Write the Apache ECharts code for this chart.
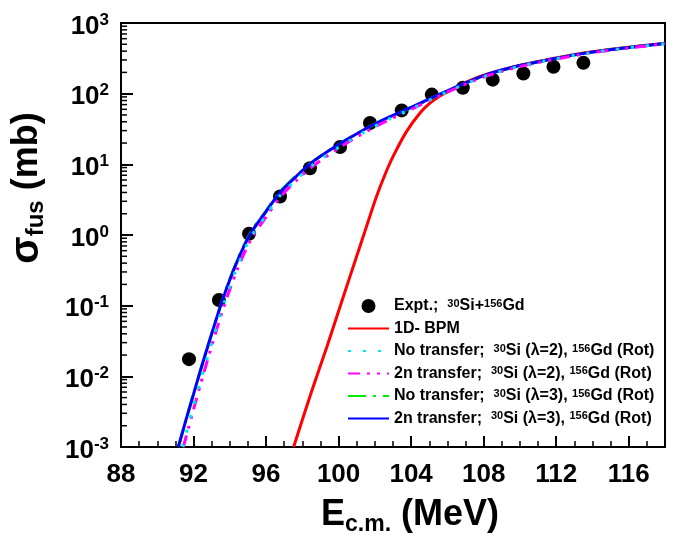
<!DOCTYPE html>
<html>
<head>
<meta charset="utf-8">
<script src="https://cdn.jsdelivr.net/npm/echarts@6/dist/echarts.min.js"></script>
<style>
html, body { margin: 0; padding: 0; background: #fff; }
#chart { width: 683px; height: 535px; }
</style>
</head>
<body>
<div id="chart"></div>
<script>
// Fusion cross sections for 30Si + 156Gd (sigma in mb, E_cm in MeV)
const exptE     = [91.75, 93.4, 95.06, 96.77, 98.42, 100.08, 101.73, 103.48, 105.14, 106.85, 108.5, 110.19, 111.85, 113.5];
const exptSigma = [0.0175, 0.12, 1.04, 3.5, 8.8, 17.6, 38.5, 58, 97, 121, 158, 193, 240, 273];

const bpmE     = [97.52, 98.5, 99.35, 100.2, 100.96, 101.5, 102.1, 102.6, 103.02, 103.76, 104.5, 105.05, 105.6, 106.33, 107.0, 108.17, 110.0, 111.84, 113.69, 115.52, 118.0];
const bpmSigma = [0.001, 0.006, 0.026, 0.12, 0.47, 1.23, 3.55, 7.6, 13.2, 29.5, 53.7, 74, 93, 117, 145, 188, 252, 314, 382, 440, 519];

const noTrL2E     = [91.40, 92.0, 92.4, 92.9, 93.64, 94.4, 95.15, 96.0, 96.77, 97.7, 98.6, 100.45, 102.29, 104.12, 106.33, 108.17, 110.0, 111.84, 113.69, 115.52, 118.0];
const noTrL2Sigma = [0.001, 0.0038, 0.0088, 0.024, 0.10, 0.35, 0.92, 1.9, 3.6, 6.2, 9.9, 20.5, 38, 63, 116, 180, 245, 307, 373, 430, 510];

const twoNL2E     = [91.44, 92.0, 92.4, 92.9, 93.64, 94.4, 95.15, 96.0, 96.77, 97.7, 98.6, 100.45, 102.29, 104.12, 106.33, 108.17, 110.0, 111.84, 113.69, 115.52, 118.0];
const twoNL2Sigma = [0.001, 0.0034, 0.0079, 0.022, 0.091, 0.32, 0.85, 1.8, 3.4, 6.0, 9.5, 20, 37, 62, 115, 178, 242, 304, 370, 427, 507];

const noTrL3E     = [91.16, 91.6, 92.0, 92.4, 92.9, 93.64, 94.4, 95.15, 96.0, 96.77, 97.7, 98.6, 100.45, 102.29, 104.12, 106.33, 108.17, 110.0, 111.84, 113.69, 115.52, 118.0];
const noTrL3Sigma = [0.001, 0.0025, 0.0056, 0.0125, 0.033, 0.13, 0.43, 1.08, 2.2, 4.1, 7.0, 11.1, 22.4, 40.5, 65.5, 119, 185, 249, 310, 377, 435, 512];

const twoNL3E     = [91.16, 91.6, 92.0, 92.4, 92.9, 93.64, 94.4, 95.15, 96.0, 96.77, 97.7, 98.6, 100.45, 102.29, 104.12, 106.33, 108.17, 110.0, 111.84, 113.69, 115.52, 118.0];
const twoNL3Sigma = [0.001, 0.0025, 0.0056, 0.0126, 0.033, 0.129, 0.42, 1.05, 2.15, 4.0, 6.9, 11.0, 22.4, 40.7, 66, 120, 186, 250, 311, 378, 436, 513];

// axis ticks
const xMajorTicks = [88, 92, 96, 100, 104, 108, 112, 116];
const yDecades = [-3, -2, -1, 0, 1, 2, 3];
const yMinorTicks = [];
for (let k = -3; k < 3; k++) {
  for (let m = 2; m <= 9; m++) yMinorTicks.push([88, m * Math.pow(10, k)]);
}

const FONT = '"Liberation Sans", Arial, Helvetica, sans-serif';
const pair = (xs, ys) => xs.map((x, i) => [x, ys[i]]);

const NAMES = {
  expt: 'Expt. 30Si+156Gd',
  bpm: '1D- BPM',
  l2no: 'No transfer L2',
  l2tr: '2n transfer L2',
  l3no: 'No transfer L3',
  l3tr: '2n transfer L3'
};
const legendText = {
  [NAMES.expt]: '{t|Expt.;  }{p|30}{t|Si+}{p|156}{t|Gd}',
  [NAMES.bpm]:  '{t|1D- BPM}',
  [NAMES.l2no]: '{t|No transfer;  }{p|30}{t|Si (\u03bb=2), }{p|156}{t|Gd (Rot)}',
  [NAMES.l2tr]: '{t|2n transfer;  }{p|30}{t|Si (\u03bb=2), }{p|156}{t|Gd (Rot)}',
  [NAMES.l3no]: '{t|No transfer;  }{p|30}{t|Si (\u03bb=3), }{p|156}{t|Gd (Rot)}',
  [NAMES.l3tr]: '{t|2n transfer;  }{p|30}{t|Si (\u03bb=3), }{p|156}{t|Gd (Rot)}'
};

function curve(name, xs, ys, color, dash) {
  return {
    name: name, type: 'line', data: pair(xs, ys),
    showSymbol: false, symbol: 'none', smooth: 0.3,
    lineStyle: { color: color, width: 3, type: dash, cap: 'butt' },
    itemStyle: { color: color },
    emphasis: { disabled: true }
  };
}
// legend entry for a curve: line only, no marker
const lineEntry = name => ({ name: name, itemStyle: { opacity: 0 } });

const chart = echarts.init(document.getElementById('chart'), null, { renderer: 'canvas' });
chart.setOption({
  animation: false,
  backgroundColor: '#fff',
  textStyle: { fontFamily: FONT },
  grid: {
    left: 121, right: 18, top: 23, bottom: 88,
    containLabel: false, outerBoundsMode: 'none',
    show: true, borderColor: '#000', borderWidth: 2, backgroundColor: 'transparent'
  },
  xAxis: [{
    type: 'value', min: 88, max: 118, interval: 4,
    axisLine: { lineStyle: { color: '#000', width: 2 } },
    axisTick: { inside: true, length: 11, lineStyle: { color: '#000', width: 2 } },
    axisLabel: {
      margin: 15, color: '#000', fontFamily: FONT, fontWeight: 'bold', fontSize: 26,
      showMaxLabel: false,
      formatter: v => xMajorTicks.indexOf(v) >= 0 ? String(v) : ''
    },
    splitLine: { show: false },
    name: '{e|E}{s|c.m.}{e| (MeV)}',
    nameLocation: 'middle', nameGap: 47,
    nameTextStyle: {
      padding: [0, 0, 0, 34],
      rich: {
        e: { fontFamily: FONT, fontWeight: 'bold', fontSize: 36, color: '#000', lineHeight: 42 },
        s: { fontFamily: FONT, fontWeight: 'bold', fontSize: 23, color: '#000', lineHeight: 20, verticalAlign: 'bottom' }
      }
    }
  }, {
    type: 'value', min: 88, max: 118, interval: 1, position: 'bottom',
    axisLine: { show: false },
    axisTick: { inside: true, length: 6, lineStyle: { color: '#000', width: 1.5 } },
    axisLabel: { show: false },
    splitLine: { show: false }
  }],
  yAxis: [{
    type: 'log', logBase: 10, min: 1e-3, max: 1e3, splitNumber: 6,
    axisLine: { lineStyle: { color: '#000', width: 2 } },
    axisTick: { inside: true, length: 12, lineStyle: { color: '#000', width: 2 } },
    axisLabel: {
      margin: 12,
      padding: [7, 0, 0, 0],
      formatter: v => {
        const e = Math.round(Math.log10(v));
        return yDecades.indexOf(e) >= 0 ? '{b|10}{s|' + e + '}' : '';
      },
      rich: {
        b: { fontFamily: FONT, fontWeight: 'bold', fontSize: 26, color: '#000', lineHeight: 30 },
        s: { fontFamily: FONT, fontWeight: 'bold', fontSize: 17, color: '#000', lineHeight: 14, verticalAlign: 'top' }
      }
    },
    splitLine: { show: false },
    name: '{g|\u03c3}{s|fus}{e| (mb)}',
    nameLocation: 'middle', nameGap: 73,
    nameTextStyle: {
      padding: [0, 0, 0, 94],
      rich: {
        g: { fontFamily: FONT, fontWeight: 'bold', fontSize: 40, color: '#000', lineHeight: 42 },
        e: { fontFamily: FONT, fontWeight: 'bold', fontSize: 36, color: '#000', lineHeight: 42 },
        s: { fontFamily: FONT, fontWeight: 'bold', fontSize: 24, color: '#000', lineHeight: 20, verticalAlign: 'bottom' }
      }
    }
  }],
  legend: {
    orient: 'vertical', left: 347, top: 298, padding: 0,
    itemWidth: 41, itemHeight: 14, itemGap: 6.5,
    selectedMode: false,
    data: [
      { name: NAMES.expt },
      lineEntry(NAMES.bpm), lineEntry(NAMES.l2no), lineEntry(NAMES.l2tr),
      lineEntry(NAMES.l3no), lineEntry(NAMES.l3tr)
    ],
    formatter: name => legendText[name],
    textStyle: {
      color: '#000', fontFamily: FONT, fontWeight: 'bold', fontSize: 16, lineHeight: 16,
      rich: {
        t: { fontFamily: FONT, fontWeight: 'bold', fontSize: 16, color: '#000', lineHeight: 16 },
        p: { fontFamily: FONT, fontWeight: 'bold', fontSize: 11, color: '#000', lineHeight: 10, verticalAlign: 'top' }
      }
    }
  },
  series: [
    {
      name: NAMES.expt, type: 'scatter', data: pair(exptE, exptSigma),
      symbol: 'circle', symbolSize: 14, itemStyle: { color: '#000', opacity: 1 },
      emphasis: { disabled: true }
    },
    curve(NAMES.bpm, bpmE, bpmSigma, '#ff0000', 'solid'),
    curve(NAMES.l3no, noTrL3E, noTrL3Sigma, '#00ee00', [18, 7, 3, 7]),
    curve(NAMES.l3tr, twoNL3E, twoNL3Sigma, '#0000ff', 'solid'),
    curve(NAMES.l2tr, twoNL2E, twoNL2Sigma, '#ff00ff', [12, 7, 3, 7, 3, 7]),
    curve(NAMES.l2no, noTrL2E, noTrL2Sigma, '#00e5ee', [3, 12]),
    {
      // logarithmic minor ticks (2..9 of each decade) on the left axis
      type: 'custom', silent: true, clip: false, z: 5,
      data: yMinorTicks,
      renderItem: (params, api) => {
        const p = api.coord([api.value(0), api.value(1)]);
        return {
          type: 'line',
          shape: { x1: p[0], y1: p[1], x2: p[0] + 6, y2: p[1] },
          style: { stroke: '#000', lineWidth: 1.5 }
        };
      }
    }
  ]
});
</script>
</body>
</html>
